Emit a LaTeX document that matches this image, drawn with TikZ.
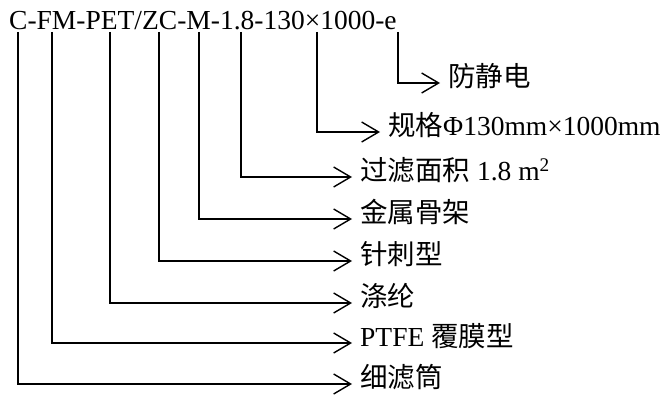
\documentclass[tikz,border=0pt]{standalone}
\usepackage{fontspec}
\setmainfont{Liberation Serif}
\newfontfamily\cjk{Noto Sans CJK SC}
\usetikzlibrary{arrows.meta}
\begin{document}
\begin{tikzpicture}[x=1pt,y=1pt,
  conn/.style={line width=2pt, -{Straight Barb[length=17pt,width=20pt,line width=1.4pt 0]}},
  lab/.style={anchor=west, inner xsep=8pt, inner ysep=0pt, text height=0.83em, text depth=0.07em, font=\fontsize{27.5}{33}\selectfont}]
\useasboundingbox (0,0) rectangle (665,-401);
\node[anchor=base west, inner sep=0pt, font=\fontsize{27.5}{33}\selectfont] (code) at (9,-30) {C-FM-PET/ZC-M-1.8-130×1000-e};
\coordinate (s1) at (18,-32);
\coordinate (s2) at (52,-32);
\coordinate (s3) at (110,-32);
\coordinate (s4) at (159,-32);
\coordinate (s5) at (199,-32);
\coordinate (s6) at (241,-32);
\coordinate (s7) at (317,-32);
\coordinate (s8) at (398,-32);
\node[lab] (l1) at (352,-384) {{\cjk 细滤筒}};
\node[lab] (l2) at (352,-343) {PTFE {\cjk 覆膜型}};
\node[lab] (l3) at (352,-303) {{\cjk 涤纶}};
\node[lab] (l4) at (352,-261) {{\cjk 针刺型}};
\node[lab] (l5) at (352,-219) {{\cjk 金属骨架}};
\node[lab] (l6) at (352,-177) {{\cjk 过滤面积} 1.8 m\textsuperscript{2}};
\node[lab] (l7) at (380,-132) {{\cjk 规格}Φ130mm×1000mm};
\node[lab] (l8) at (440,-83) {{\cjk 防静电}};
\foreach \i in {1,...,8}{\draw[conn] (s\i) |- (l\i.west);}
\end{tikzpicture}
\end{document}
